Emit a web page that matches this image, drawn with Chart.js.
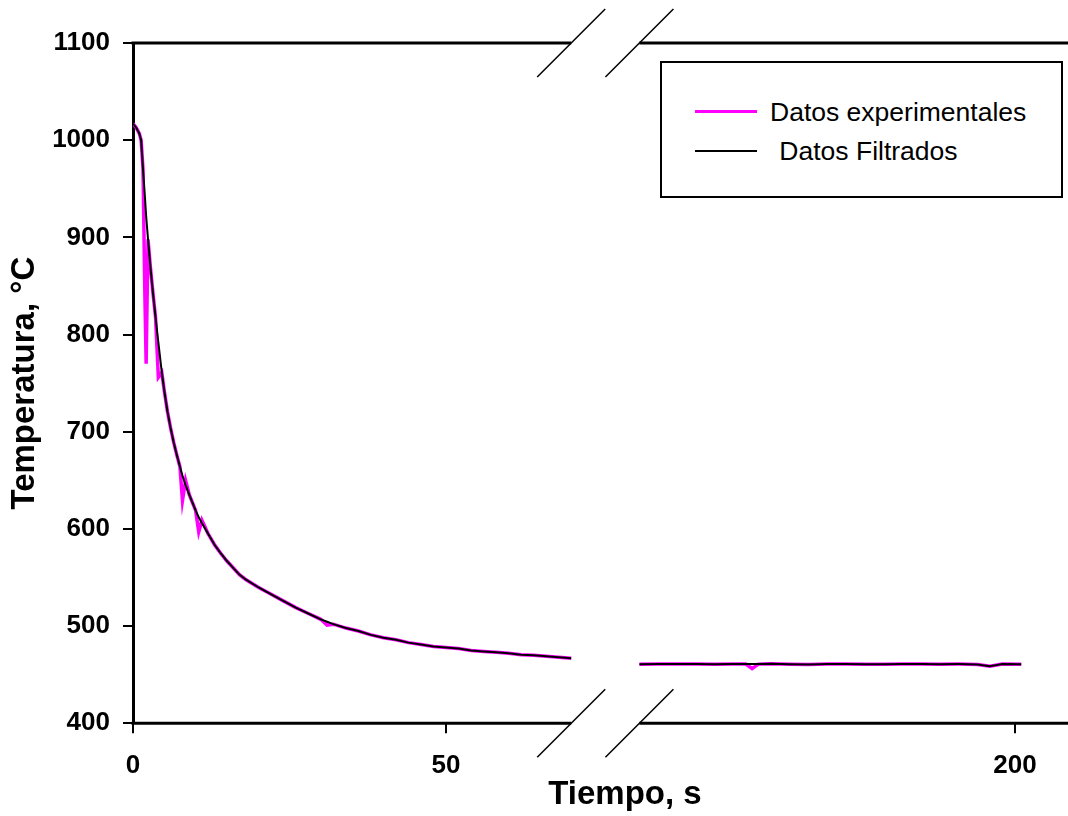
<!DOCTYPE html>
<html lang="es">
<head>
<meta charset="utf-8">
<title>Temperatura vs Tiempo</title>
<script src="https://cdn.jsdelivr.net/npm/chart.js@4.4.1/dist/chart.umd.min.js"></script>
<style>
    html, body { margin: 0; padding: 0; background: #fff; }
    #wrap { position: relative; width: 1068px; height: 816px; }
    #chart { position: absolute; left: 0; top: 0; }
    .legend-box {
        position: absolute; left: 660px; top: 61px; width: 403px; height: 137px;
        box-sizing: border-box; border: 2px solid #000; background: #fff;
    }
    .legend-line { position: absolute; left: 695px; width: 62px; }
    .legend-text {
        position: absolute; font: 26.5px "Liberation Sans", Arial, sans-serif;
        line-height: 30px; color: #000; white-space: nowrap;
    }
</style>
</head>
<body>
<div id="wrap">
    <canvas id="chart" width="1068" height="816"></canvas>
    <div class="legend-box"></div>
    <div class="legend-line" style="top:110px;height:3px;background:#ff00ff;"></div>
    <div class="legend-text" style="left:770px;top:97px;">Datos experimentales</div>
    <div class="legend-line" style="top:150px;height:2px;background:#000;"></div>
    <div class="legend-text" style="left:772px;top:136px;">&nbsp;Datos Filtrados</div>
</div>
<script>
// Curva de enfriamiento: datos experimentales y filtrados, eje X partido (0-70 s | 140-201 s)

// ═══ DATOS ═══════════════════════════════════════════════════════════════
const timeLeft = [0, 0.5, 1.0, 1.3, 1.6, 1.9, 2.1, 2.4, 2.8, 3.2, 3.6, 4.05, 4.6, 5.0, 5.5,
    6.0, 6.5, 7.0, 7.5, 7.9, 8.4, 9.0, 10.0, 10.5, 11.0, 12, 13, 14, 15, 16, 17, 18,
    20, 22, 24, 26, 28, 30, 31, 32, 34, 36, 38, 40, 42, 44, 46, 48, 50, 52, 54, 56,
    58, 60, 62, 64, 66, 68, 70];
const expLeft = [1017, 1013, 1007, 1000, 970, 840, 770, 898, 868, 842, 818, 756, 761, 742, 721,
    704, 689, 676, 664, 629, 650, 635, 619, 597, 609, 595, 584, 575, 567, 560, 553, 548,
    540, 533, 526, 519, 513, 507, 501, 502, 498, 495, 491, 488, 486, 483, 481, 479, 478, 477, 475, 474,
    473, 472, 470.5, 470, 469, 468, 467];
const filtLeft = [1017, 1013, 1007, 1000, 970, 942, 922, 898, 868, 842, 818, 792, 761, 742, 721,
    704, 689, 676, 664, 655, 645, 635, 619, 612, 606, 595, 584, 575, 567, 560, 553, 548,
    540, 533, 526, 519, 513, 507, 504.5, 502, 498, 495, 491, 488, 486, 483, 481, 479, 478, 477, 475, 474,
    473, 472, 470.5, 470, 469, 468, 467];

const timeRight = [140, 143, 146, 149, 152, 155, 157, 158, 159, 161, 164, 167, 170, 173, 176,
    179, 182, 185, 188, 191, 194, 196, 198, 201];
const expRight = [460.8, 461.0, 460.9, 461.1, 460.8, 461.0, 460.9, 456.3, 460.9, 461.2, 460.7, 460.6,
    460.9, 461.0, 460.8, 460.7, 461.1, 461.0, 460.8, 460.9, 460.6, 458.8, 460.9, 460.8];
const filtRight = [460.8, 461.0, 460.9, 461.1, 460.8, 461.0, 460.9, 461.0, 460.9, 461.2, 460.7, 460.6,
    460.9, 461.0, 460.8, 460.7, 461.1, 461.0, 460.8, 460.9, 460.6, 458.8, 460.9, 460.8];

const xTicksLeft  = [0, 50];
const xTicksRight = [200];
const yMin = 400, yMax = 1100, yStep = 100;
const breakLeft = 70, breakRight = 140;   // extremos del tramo cortado

// ═══ ESTILO ══════════════════════════════════════════════════════════════
const FONT = '"Liberation Sans", Arial, sans-serif';
const MAGENTA = '#ff00ff';
const BLACK = '#000000';
const TICK_FONT = { family: FONT, size: 26, weight: 'bold' };
const TITLE_FONT = { family: FONT, size: 33, weight: 'bold' };

const pts = (xs, ys) => xs.map((x, i) => ({ x, y: ys[i] }));

function tickGrid() {
    return { display: true, drawOnChartArea: false, drawTicks: true, tickLength: 10,
             color: BLACK, lineWidth: 2 };
}
// los ejes X no deben encoger el área del gráfico por sus etiquetas
function fixHeight(h) {
    return (s) => { s.height = h; s.paddingLeft = 0; s.paddingRight = 0; };
}
function hidden(extra) {
    return Object.assign({
        type: 'linear', position: 'bottom', min: 0, max: 1,
        grid: { display: false, drawTicks: false },
        border: { display: false },
        ticks: { display: false }
    }, extra);
}

// ejes rotos: marco y marcas de corte
const brokenAxisPlugin = {
    id: 'brokenAxis',
    afterDraw(chart) {
        const { ctx, chartArea: a, scales } = chart;
        const p1 = scales.x.getPixelForValue(breakLeft);
        const p2 = scales.x2.getPixelForValue(breakRight);
        ctx.save();
        ctx.strokeStyle = BLACK;
        ctx.lineCap = 'butt';
        ctx.lineWidth = 3;
        [a.top, a.bottom].forEach((y) => {
            ctx.beginPath();
            ctx.moveTo(a.left - 1.5, y); ctx.lineTo(p1, y);
            ctx.moveTo(p2, y); ctx.lineTo(chart.width, y);
            ctx.stroke();
        });
        ctx.lineWidth = 1.5;
        [a.top, a.bottom].forEach((y) => {
            [p1, p2].forEach((p) => {
                ctx.beginPath();
                ctx.moveTo(p - 34, y + 34);
                ctx.lineTo(p + 34, y - 34);
                ctx.stroke();
            });
        });
        ctx.restore();
    }
};

new Chart(document.getElementById('chart'), {
    type: 'line',
    data: {
        datasets: [
            { label: 'Datos Filtrados', data: pts(timeLeft, filtLeft), xAxisID: 'x',
              borderColor: BLACK, borderWidth: 2, order: 0 },
            { label: 'Datos Filtrados', data: pts(timeRight, filtRight), xAxisID: 'x2',
              borderColor: BLACK, borderWidth: 2, order: 0 },
            { label: 'Datos experimentales', data: pts(timeLeft, expLeft), xAxisID: 'x',
              borderColor: MAGENTA, borderWidth: 3.5, order: 1 },
            { label: 'Datos experimentales', data: pts(timeRight, expRight), xAxisID: 'x2',
              borderColor: MAGENTA, borderWidth: 3.5, order: 1 }
        ]
    },
    options: {
        responsive: false,
        animation: false,
        events: [],
        layout: { padding: { top: 43, left: 0, right: 0, bottom: 0 } },
        elements: { point: { radius: 0 }, line: { tension: 0, fill: false } },
        plugins: { legend: { display: false }, tooltip: { enabled: false } },
        scales: {
            y: {
                type: 'linear', position: 'left', min: yMin, max: yMax,
                ticks: { stepSize: yStep, color: BLACK, padding: 13, font: TICK_FONT,
                         callback: (v) => String(v) },
                grid: tickGrid(),
                border: { display: true, color: BLACK, width: 3 },
                title: { display: true, text: 'Temperatura, °C', color: BLACK,
                         padding: { top: 5, bottom: 0 }, font: TITLE_FONT },
                afterFit: (s) => { s.width = 133; }
            },
            x: {
                type: 'linear', position: 'bottom', stack: 'ticks', stackWeight: 472, weight: 0,
                min: 0, max: 75.4,
                afterBuildTicks: (s) => { s.ticks = xTicksLeft.map((v) => ({ value: v })); },
                ticks: { color: BLACK, padding: 17, maxRotation: 0, font: TICK_FONT,
                         callback: (v) => String(v) },
                grid: tickGrid(),
                border: { display: false },
                afterFit: fixHeight(50)
            },
            x2: {
                type: 'linear', position: 'bottom', stack: 'ticks', stackWeight: 463, weight: 0,
                min: 134.5, max: 208.47,
                afterBuildTicks: (s) => { s.ticks = xTicksRight.map((v) => ({ value: v })); },
                ticks: { color: BLACK, padding: 17, maxRotation: 0, font: TICK_FONT,
                         callback: (v) => String(v) },
                grid: tickGrid(),
                border: { display: false },
                afterFit: fixHeight(50)
            },
            xPad: hidden({ stack: 'title', stackWeight: 49, weight: 1, afterFit: fixHeight(42.7) }),
            xTitle: hidden({ stack: 'title', stackWeight: 886, weight: 2,
                             title: { display: true, text: 'Tiempo, s', color: BLACK,
                                      padding: { top: 0, bottom: 1.6 }, font: TITLE_FONT },
                             afterFit: fixHeight(42.7) })
        }
    },
    plugins: [brokenAxisPlugin]
});
</script>
</body>
</html>
